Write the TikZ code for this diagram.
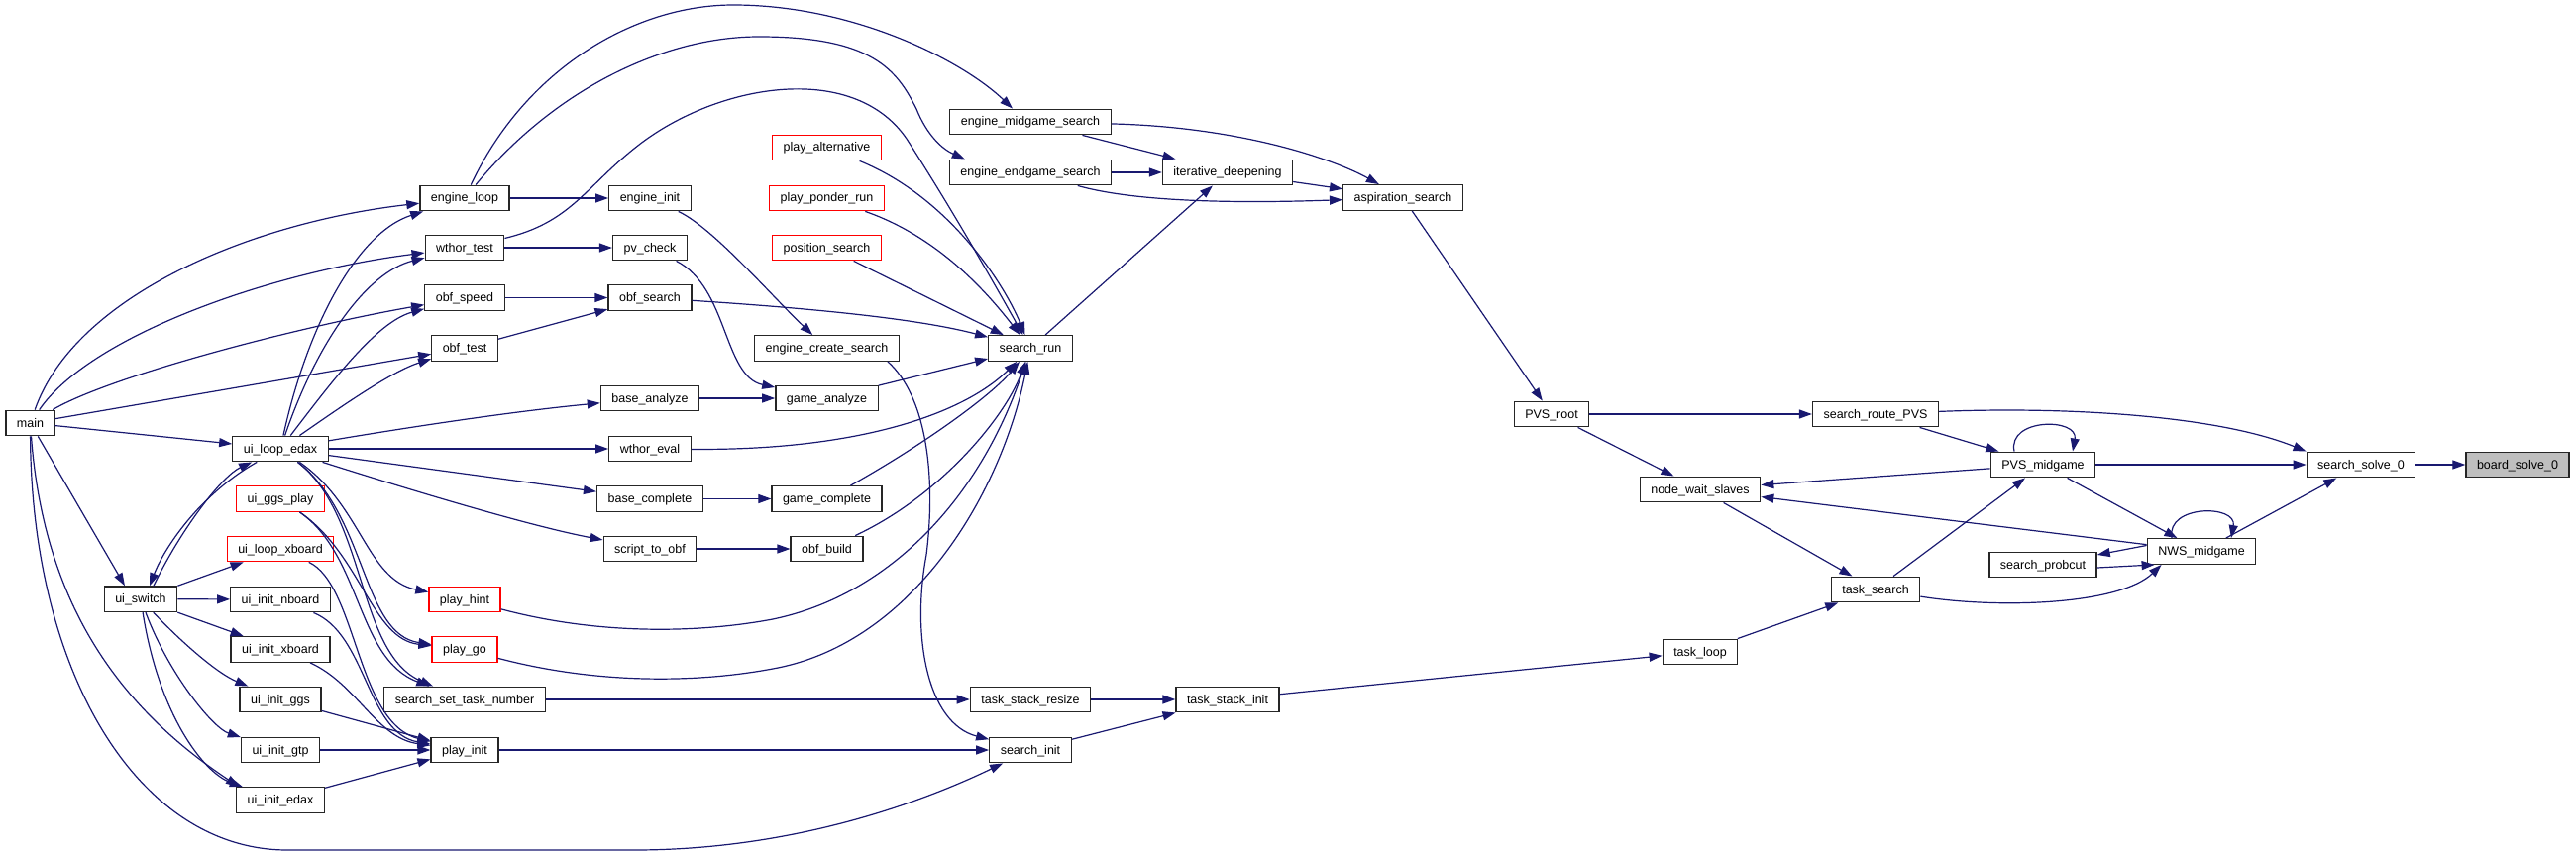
\documentclass[tikz,border=0pt]{standalone}
\usepackage{fontspec}
\setmainfont{Liberation Sans}
\usetikzlibrary{arrows.meta}

\definecolor{edgeblue}{HTML}{191970}
\definecolor{selgray}{HTML}{BFBFBF}

\begin{document}
\begin{tikzpicture}[x=1pt,y=-1pt,
	fn/.style={draw=black!85, line width=1.3pt, fill=white, font=\fontsize{12.5}{14}\selectfont, inner xsep=11pt, inner ysep=0pt, minimum height=25.6pt, text height=10pt, text depth=2pt},
	fnred/.style={fn, draw=red},
	fnsel/.style={fn, fill=selgray},
	call/.style={draw=edgeblue, line width=1.2pt, -{Triangle[length=13pt,width=9pt]}}]

	\useasboundingbox (0,0) rectangle (2600,864);

	\node[fn] (main) at (30.5,427) {main};

	\node[fn] (uiswitch) at (142,604.7) {ui\_switch};

	\node[fn] (loopedax) at (283,453) {ui\_loop\_edax};
	\node[fnred] (ggsplay) at (283,503.5) {ui\_ggs\_play};
	\node[fnred] (loopxboard) at (283,554) {ui\_loop\_xboard};
	\node[fn] (initnboard) at (283,605) {ui\_init\_nboard};
	\node[fn] (initxboard) at (283,655.5) {ui\_init\_xboard};
	\node[fn] (initggs) at (283,706) {ui\_init\_ggs};
	\node[fn] (initgtp) at (283,757) {ui\_init\_gtp};
	\node[fn] (initedax) at (283,807.5) {ui\_init\_edax};

	\node[fn] (engloop) at (469,200) {engine\_loop};
	\node[fn] (wthortest) at (469,250) {wthor\_test};
	\node[fn] (obfspeed) at (469,300.5) {obf\_speed};
	\node[fn] (obftest) at (469,351.5) {obf\_test};
	\node[fnred] (playhint) at (469,605) {play\_hint};
	\node[fnred] (playgo) at (469,655.5) {play\_go};
	\node[fn] (settask) at (469,706) {search\_set\_task\_number};
	\node[fn] (playinit) at (469,757) {play\_init};

	\node[fn] (enginit) at (656,200) {engine\_init};
	\node[fn] (pvcheck) at (656,250) {pv\_check};
	\node[fn] (obfsearch) at (656,300.5) {obf\_search};
	\node[fn] (baseanalyze) at (656,402) {base\_analyze};
	\node[fn] (wthoreval) at (656,453) {wthor\_eval};
	\node[fn] (basecomplete) at (656,503.5) {base\_complete};
	\node[fn] (scripttoobf) at (656,554) {script\_to\_obf};

	\node[fnred] (playalt) at (834.5,149) {play\_alternative};
	\node[fnred] (playponder) at (834.5,200) {play\_ponder\_run};
	\node[fnred] (possearch) at (834.5,250) {position\_search};
	\node[fn] (createsearch) at (834.5,351.5) {engine\_create\_search};
	\node[fn] (gameanalyze) at (834.5,402) {game\_analyze};
	\node[fn] (gamecomplete) at (834.5,503.5) {game\_complete};
	\node[fn] (obfbuild) at (834.5,554) {obf\_build};

	\node[fn] (midsearch) at (1040,123) {engine\_midgame\_search};
	\node[fn] (endsearch) at (1040,174) {engine\_endgame\_search};
	\node[fn] (searchrun) at (1040,351.5) {search\_run};
	\node[fn] (stackresize) at (1040,706) {task\_stack\_resize};
	\node[fn] (searchinit) at (1040,757) {search\_init};

	\node[fn] (itdeep) at (1239,174) {iterative\_deepening};
	\node[fn] (stackinit) at (1239,706) {task\_stack\_init};
	\node[fn] (aspsearch) at (1416,199.5) {aspiration\_search};

	\node[fn] (pvsroot) at (1566,418) {PVS\_root};
	\node[fn] (waitslaves) at (1716,494) {node\_wait\_slaves};
	\node[fn] (taskloop) at (1716,658) {task\_loop};
	\node[fn] (routepvs) at (1893,418) {search\_route\_PVS};
	\node[fn] (tasksearch) at (1893,595) {task\_search};
	\node[fn] (pvsmid) at (2062,469) {PVS\_midgame};
	\node[fn] (probcut) at (2062,570) {search\_probcut};
	\node[fn] (nwsmid) at (2222,556.5) {NWS\_midgame};
	\node[fn] (solvezero) at (2383,469) {search\_solve\_0};
	\node[fnsel] (boardsolve) at (2541,469) {board\_solve\_0};

	\draw[call] (main) .. controls (75,300) and (250,225) .. (engloop);
	\draw[call] (main) .. controls (90,340) and (270,275) .. (wthortest);
	\draw[call] (main) .. controls (110,380) and (300,330) .. (obfspeed);
	\draw[call] (main) -- (obftest);
	\draw[call] (main) -- (loopedax);
	\draw[call] (main) -- ([xshift=-16pt]uiswitch.north);
	\draw[call] (main) .. controls (45,620) and (130,720) .. ([xshift=3pt]initedax.north west);
	\draw[call] (main) .. controls (32,680) and (140,858) .. (290,858) -- (640,858) .. controls (800,858) and (930,810) .. (searchinit);

	\draw[call] (loopedax) .. controls (310,330) and (360,235) .. (engloop);
	\draw[call] (loopedax) .. controls (320,345) and (370,275) .. (wthortest);
	\draw[call] (loopedax) .. controls (335,385) and (380,325) .. (obfspeed);
	\draw[call] (loopedax) .. controls (345,410) and (395,375) .. (obftest);
	\draw[call] (loopedax) .. controls (420,430) and (520,415) .. (baseanalyze);
	\draw[call] (loopedax) -- (wthoreval);
	\draw[call] (loopedax) -- (basecomplete);
	\draw[call] (loopedax) .. controls (400,490) and (530,530) .. (scripttoobf);
	\draw[call] (loopedax) .. controls (365,510) and (370,585) .. (playhint);
	\draw[call] (loopedax) .. controls (370,520) and (365,640) .. (playgo);
	\draw[call] (loopedax) .. controls (370,520) and (360,660) .. (settask);
	\draw[call] (loopedax) .. controls (200,500) and (165,555) .. ([xshift=9pt]uiswitch.north);

	\draw[call] ([xshift=13pt]uiswitch.north) .. controls (185,530) and (225,480) .. (loopedax);
	\draw[call] (uiswitch) -- (loopxboard);
	\draw[call] (uiswitch) -- (initnboard);
	\draw[call] (uiswitch) -- (initxboard);
	\draw[call] (uiswitch) .. controls (185,650) and (220,680) .. (initggs);
	\draw[call] (uiswitch) .. controls (170,680) and (215,735) .. (initgtp);
	\draw[call] (uiswitch) .. controls (160,720) and (205,780) .. (initedax);

	\draw[call] (ggsplay) .. controls (365,560) and (375,645) .. (playgo);
	\draw[call] (ggsplay) .. controls (365,560) and (360,665) .. (settask);
	\draw[call] (loopxboard) .. controls (360,590) and (360,730) .. (playinit);
	\draw[call] (initnboard) .. controls (370,640) and (370,740) .. (playinit);
	\draw[call] (initxboard) .. controls (360,690) and (380,745) .. (playinit);
	\draw[call] (initggs) -- (playinit);
	\draw[call] (initgtp) -- (playinit);
	\draw[call] (initedax) -- (playinit);

	\draw[call] (engloop) -- (enginit);
	\draw[call] (engloop) .. controls (530,70) and (640,5) .. (740,5) .. controls (860,5) and (970,60) .. ([xshift=-18pt]midsearch.north);
	\draw[call] (engloop) .. controls (560,90) and (670,37) .. (766,37) .. controls (880,37) and (905,70) .. (925,110) .. controls (935,135) and (950,150) .. ([xshift=16pt]endsearch.north west);
	\draw[call] (wthortest) -- (pvcheck);
	\draw[call] (wthortest) .. controls (575,225) and (590,190) .. (640,150) .. controls (720,85) and (860,60) .. (915,140) .. controls (960,210) and (1000,280) .. (searchrun);
	\draw[call] (obfspeed) -- (obfsearch);
	\draw[call] (obftest) -- (obfsearch);
	\draw[call] (playhint) .. controls (600,640) and (700,640) .. (780,625) .. controls (900,600) and (990,500) .. (searchrun);
	\draw[call] (playgo) .. controls (600,690) and (700,690) .. (780,675) .. controls (920,650) and (1010,500) .. (searchrun);
	\draw[call] (settask) -- (stackresize);
	\draw[call] (playinit) -- (searchinit);

	\draw[call] (enginit) .. controls (720,230) and (780,300) .. (createsearch);
	\draw[call] (pvcheck) .. controls (735,290) and (730,380) .. (gameanalyze);
	\draw[call] (obfsearch) .. controls (800,310) and (920,320) .. (searchrun);
	\draw[call] (baseanalyze) -- (gameanalyze);
	\draw[call] (wthoreval) .. controls (860,455) and (970,420) .. (searchrun);
	\draw[call] (basecomplete) -- (gamecomplete);
	\draw[call] (scripttoobf) -- (obfbuild);

	\draw[call] (playalt) .. controls (960,200) and (1015,290) .. (searchrun);
	\draw[call] (playponder) .. controls (950,240) and (1000,300) .. (searchrun);
	\draw[call] (possearch) -- (searchrun);
	\draw[call] ([xshift=-12pt]createsearch.south east) .. controls (935,400) and (945,480) .. (935,560) .. controls (920,640) and (935,730) .. (searchinit);
	\draw[call] (gameanalyze) -- (searchrun);
	\draw[call] (gamecomplete) .. controls (930,450) and (1000,400) .. (searchrun);
	\draw[call] (obfbuild) .. controls (950,500) and (1015,420) .. (searchrun);

	\draw[call] (searchrun) -- (itdeep);
	\draw[call] (midsearch) -- (itdeep);
	\draw[call] (midsearch) .. controls (1250,128) and (1345,160) .. (aspsearch);
	\draw[call] (endsearch) -- (itdeep);
	\draw[call] (endsearch) .. controls (1150,205) and (1260,205) .. (aspsearch);
	\draw[call] (itdeep) -- (aspsearch);
	\draw[call] (aspsearch) -- (pvsroot);
	\draw[call] (stackresize) -- (stackinit);
	\draw[call] (searchinit) -- (stackinit);
	\draw[call] (stackinit) -- (taskloop);

	\draw[call] (pvsroot) -- (routepvs);
	\draw[call] (pvsroot) -- (waitslaves);
	\draw[call] (taskloop) -- (tasksearch);
	\draw[call] (waitslaves) -- (tasksearch);
	\draw[call] (routepvs) -- (pvsmid);
	\draw[call] (routepvs) .. controls (2090,410) and (2240,420) .. (solvezero.north west);
	\draw[call] (tasksearch) -- (pvsmid);
	\draw[call] (tasksearch) .. controls (2020,615) and (2140,610) .. ([xshift=15pt]nwsmid.south west);
	\draw[call] ([xshift=-29pt]pvsmid.north) .. controls ([xshift=-36pt,yshift=34pt]pvsmid.north) and ([xshift=36pt,yshift=34pt]pvsmid.north) .. ([xshift=30pt]pvsmid.north);
	\draw[call] (pvsmid) -- (solvezero);
	\draw[call] (pvsmid) -- (waitslaves);
	\draw[call] (pvsmid) -- (nwsmid);
	\draw[call] ([xshift=-30pt]nwsmid.north) .. controls ([xshift=-36pt,yshift=34pt]nwsmid.north) and ([xshift=36pt,yshift=34pt]nwsmid.north) .. ([xshift=30pt]nwsmid.north);
	\draw[call] (nwsmid) -- (waitslaves);
	\draw[call] ([yshift=6pt]nwsmid.west) -- ([yshift=10pt]probcut.east);
	\draw[call] ([yshift=-3pt]probcut.east) -- ([xshift=8pt]nwsmid.south west);
	\draw[call] (nwsmid) -- (solvezero);
	\draw[call] (solvezero) -- (boardsolve);

\end{tikzpicture}
\end{document}
